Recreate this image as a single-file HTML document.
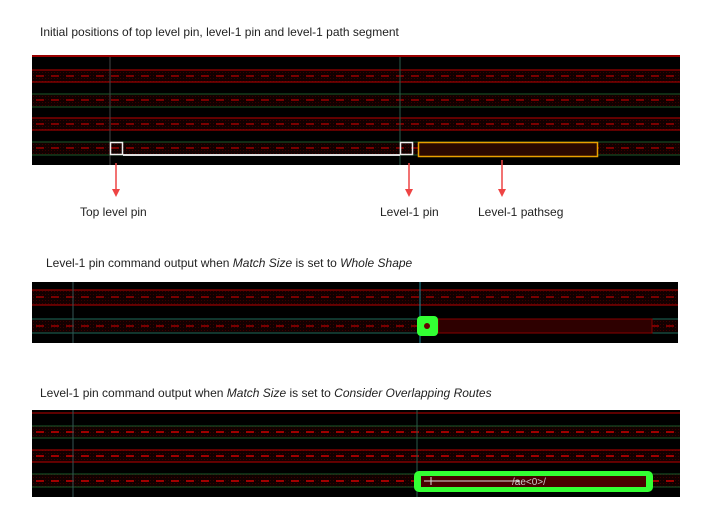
<!DOCTYPE html>
<html><head><style>
body{margin:0;background:#fff;width:710px;height:530px;position:relative;overflow:hidden;font-family:"Liberation Sans",sans-serif;}
.t{position:absolute;font-size:12px;color:#222;white-space:nowrap}
svg{position:absolute;left:0;top:0}
</style></head><body>
<div class="t" style="left:40px;top:25px">Initial positions of top level pin, level-1 pin and level-1 path segment</div>
<div class="t" style="left:80px;top:205px">Top level pin</div>
<div class="t" style="left:380px;top:205px">Level-1 pin</div>
<div class="t" style="left:478px;top:205px">Level-1 pathseg</div>
<div class="t" style="left:46px;top:256px">Level-1 pin command output when <i>Match Size</i> is set to <i>Whole Shape</i></div>
<div class="t" style="left:40px;top:386px">Level-1 pin command output when <i>Match Size</i> is set to <i>Consider Overlapping Routes</i></div>
<svg width="710" height="530">
<defs>
<pattern id="dots" width="3" height="3" patternUnits="userSpaceOnUse"><rect width="3" height="3" fill="#120000"/><rect width="1" height="1" fill="#3a0000"/></pattern>
</defs>
<!-- panel 1 -->
<rect x="32" y="55" width="648" height="110" fill="#000"/>
<line x1="32" y1="56" x2="680" y2="56" stroke="#c00" stroke-width="1.5"/>
<g>
<rect x="32" y="70" width="648" height="12" fill="url(#dots)"/>
<line x1="32" y1="70" x2="680" y2="70" stroke="#b00"/><line x1="32" y1="82" x2="680" y2="82" stroke="#b00"/>
<line x1="36" y1="76" x2="680" y2="76" stroke="#900" stroke-width="1.5" stroke-dasharray="8,7"/>
<rect x="32" y="94" width="648" height="13" fill="url(#dots)"/>
<line x1="32" y1="94" x2="680" y2="94" stroke="#1a5a2a"/><line x1="32" y1="107" x2="680" y2="107" stroke="#1a5a2a"/>
<line x1="36" y1="100" x2="680" y2="100" stroke="#900" stroke-width="1.5" stroke-dasharray="8,7"/>
<rect x="32" y="118" width="648" height="12" fill="url(#dots)"/>
<line x1="32" y1="118" x2="680" y2="118" stroke="#b00"/><line x1="32" y1="130" x2="680" y2="130" stroke="#b00"/>
<line x1="36" y1="124" x2="680" y2="124" stroke="#900" stroke-width="1.5" stroke-dasharray="8,7"/>
<rect x="32" y="142" width="648" height="13" fill="url(#dots)"/>
<line x1="32" y1="142" x2="680" y2="142" stroke="#1a5a2a"/><line x1="32" y1="155" x2="680" y2="155" stroke="#1a5a2a"/>
<line x1="36" y1="148" x2="680" y2="148" stroke="#900" stroke-width="1.5" stroke-dasharray="8,7"/>
</g>
<line x1="110" y1="57" x2="110" y2="165" stroke="#444"/>
<line x1="400" y1="57" x2="400" y2="165" stroke="#2a5a4a"/>
<line x1="123" y1="155" x2="400" y2="155" stroke="#ddd" stroke-width="2"/>
<rect x="110.5" y="142.5" width="12" height="12" fill="none" stroke="#eee" stroke-width="1.5"/>
<rect x="400.5" y="142.5" width="12" height="12" fill="none" stroke="#eee" stroke-width="1.5"/>
<rect x="418.5" y="142.5" width="179" height="14" fill="#2a0800" stroke="#e8a000" stroke-width="1.5"/>
<g stroke="#e44" stroke-width="1.5" fill="#e44">
<line x1="116" y1="163" x2="116" y2="190"/><polygon points="112,189 120,189 116,197" stroke="none"/>
<line x1="409" y1="163" x2="409" y2="190"/><polygon points="405,189 413,189 409,197" stroke="none"/>
<line x1="502" y1="160" x2="502" y2="190"/><polygon points="498,189 506,189 502,197" stroke="none"/>
</g>
<!-- panel 2 -->
<rect x="32" y="282" width="646" height="61" fill="#000"/>
<rect x="32" y="290" width="646" height="15" fill="url(#dots)"/>
<line x1="32" y1="290" x2="678" y2="290" stroke="#b00"/><line x1="32" y1="305" x2="678" y2="305" stroke="#b00"/>
<line x1="36" y1="297" x2="678" y2="297" stroke="#900" stroke-width="1.5" stroke-dasharray="8,7"/>
<rect x="32" y="319" width="646" height="14" fill="url(#dots)"/>
<line x1="32" y1="319" x2="678" y2="319" stroke="#1a6a5a"/><line x1="32" y1="333" x2="678" y2="333" stroke="#1a6a5a"/>
<line x1="36" y1="326" x2="678" y2="326" stroke="#900" stroke-width="1.5" stroke-dasharray="8,7"/>
<line x1="73" y1="282" x2="73" y2="343" stroke="#355"/>
<line x1="420" y1="282" x2="420" y2="343" stroke="#1a8a9a"/>
<rect x="438" y="319" width="214" height="14" fill="#2e0000" stroke="#800"/>
<rect x="417" y="316" width="21" height="20" rx="4" fill="#3f3"/>
<circle cx="427" cy="326" r="3" fill="#600"/>
<!-- panel 3 -->
<rect x="32" y="410" width="648" height="87" fill="#000"/>
<line x1="32" y1="413" x2="680" y2="413" stroke="#b00"/>
<rect x="32" y="426" width="648" height="12" fill="url(#dots)"/>
<line x1="32" y1="426" x2="680" y2="426" stroke="#1a5a2a"/><line x1="32" y1="438" x2="680" y2="438" stroke="#1a5a2a"/>
<line x1="36" y1="432" x2="680" y2="432" stroke="#c00" stroke-width="1.5" stroke-dasharray="8,7"/>
<rect x="32" y="450" width="648" height="12" fill="url(#dots)"/>
<line x1="32" y1="450" x2="680" y2="450" stroke="#b00"/><line x1="32" y1="462" x2="680" y2="462" stroke="#b00"/>
<line x1="36" y1="456" x2="680" y2="456" stroke="#c00" stroke-width="1.5" stroke-dasharray="8,7"/>
<rect x="32" y="474" width="648" height="13" fill="url(#dots)"/>
<line x1="32" y1="474" x2="680" y2="474" stroke="#1a5a2a"/><line x1="32" y1="487" x2="680" y2="487" stroke="#1a5a2a"/>
<line x1="36" y1="481" x2="680" y2="481" stroke="#c00" stroke-width="1.5" stroke-dasharray="8,7"/>
<line x1="73" y1="410" x2="73" y2="497" stroke="#355"/>
<line x1="417" y1="410" x2="417" y2="497" stroke="#2a5a4a"/>
<rect x="414" y="471" width="239" height="21" rx="5" fill="#3f3"/>
<rect x="421" y="476" width="225" height="11" fill="#4a0000"/>
<line x1="424" y1="481" x2="520" y2="481" stroke="#ddd"/>
<line x1="431" y1="477" x2="431" y2="485" stroke="#ddd"/>
<text x="512" y="485" font-size="10" fill="#ccc" font-family="Liberation Sans,sans-serif">/ae&lt;0&gt;/</text>
</svg>
</body></html>
